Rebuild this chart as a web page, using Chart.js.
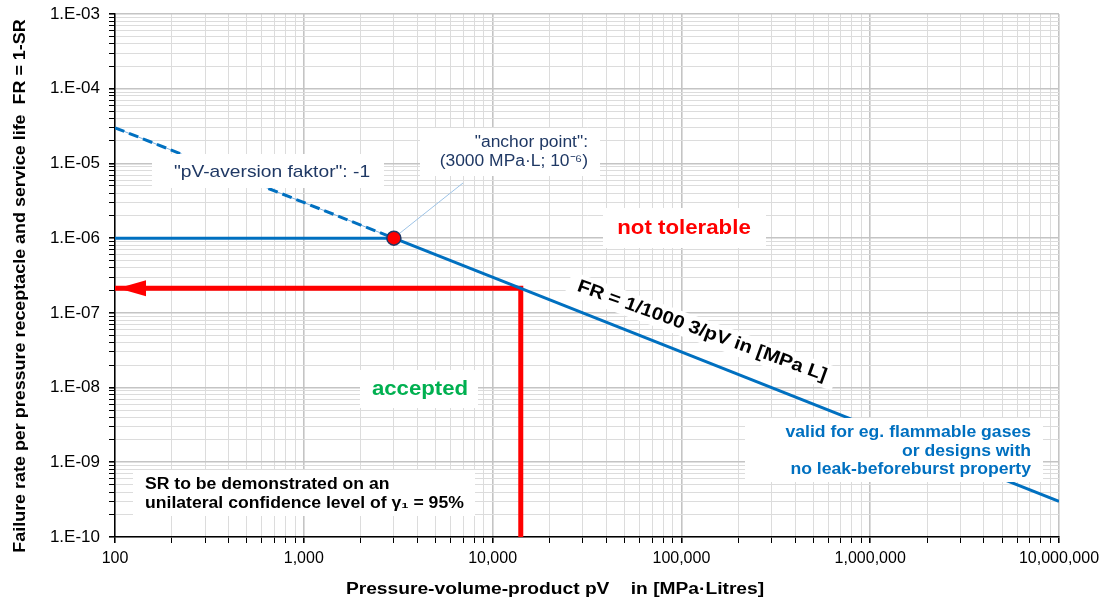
<!DOCTYPE html>
<html>
<head>
<meta charset="utf-8">
<script src="https://cdn.jsdelivr.net/npm/chart.js@4"></script>
<style>
  html, body { margin: 0; background: #fff; }
  #wrap { width: 1103px; height: 599px; }
</style>
</head>
<body>
<div id="wrap"><canvas id="c"></canvas></div>
<script>
// axis decades and minor steps
const decadesX = [100, 1000, 10000, 100000, 1000000, 10000000];
const decadesY = [1e-10, 1e-9, 1e-8, 1e-7, 1e-6, 1e-5, 1e-4, 1e-3];
const mantissas = [1, 2, 3, 4, 5, 6, 7, 8, 9];

// FR = 3e-3 / pV, dashed part below the anchor point
const aversionPv = [100, 3000];
const aversionFr = [3e-5, 1e-6];
// solid limit line
const limitPv = [3000, 10000000];
const limitFr = [1e-6, 3e-10];
// horizontal cap at 1e-6
const plateauPv = [100, 3000];
const plateauFr = [1e-6, 1e-6];
// anchor point
const anchorPv = [3000];
const anchorFr = [1e-6];
// red example path (bottom -> limit line -> y axis)
const examplePv = [14100, 14100, 100];
const exampleFr = [1e-10, 2.13e-7, 2.13e-7];

const BLUE = "#0070c0";
const NAVY = "#1f3864";
const RED = "#ff0000";
const GREEN = "#00b050";
const FONT = "'Liberation Sans', Arial, sans-serif";

function pts(xs, ys) {
  return xs.map((x, i) => ({ x: x, y: ys[i] }));
}

function logTicks(decades) {
  const out = [];
  decades.forEach((d, i) => {
    if (i === decades.length - 1) {
      out.push({ value: d, major: true });
      return;
    }
    mantissas.forEach((m) => out.push({ value: m * d, major: m === 1 }));
  });
  return out;
}

function yLabel(v) {
  const e = Math.round(Math.log10(v));
  return "1.E" + (e < 0 ? "-" : "+") + String(Math.abs(e)).padStart(2, "0");
}

function box(ctx, x, y, w, h) {
  ctx.fillStyle = "#fff";
  ctx.fillRect(x, y, w, h);
}

// text is a bit wider in the original, sx stretches it horizontally
function lines(ctx, arr, x, y, lh, font, color, align, sx) {
  ctx.save();
  ctx.translate(x, y);
  ctx.scale(sx || 1, 1);
  ctx.font = font;
  ctx.fillStyle = color;
  ctx.textAlign = align;
  ctx.textBaseline = "middle";
  arr.forEach((t, i) => ctx.fillText(t, 0, i * lh));
  ctx.restore();
}

const notes = {
  id: "notes",
  afterDatasetsDraw(chart) {
    const ctx = chart.ctx;
    ctx.save();

    // arrow head at the end of the red path
    const ex = chart.getDatasetMeta(5).data;
    const tip = ex[ex.length - 1];
    ctx.fillStyle = RED;
    ctx.beginPath();
    ctx.moveTo(tip.x + 3, tip.y);
    ctx.lineTo(tip.x + 31, tip.y - 8);
    ctx.lineTo(tip.x + 31, tip.y + 8);
    ctx.closePath();
    ctx.fill();

    // callout from anchor point
    const a = chart.getDatasetMeta(0).data[0];
    ctx.strokeStyle = "#9dc3e6";
    ctx.lineWidth = 1;
    ctx.beginPath();
    ctx.moveTo(a.x + 6, a.y - 5);
    ctx.lineTo(463, 183);
    ctx.stroke();

    // pV-aversion label
    box(ctx, 152, 154, 232, 34);
    lines(ctx, ['"pV-aversion faktor": -1'], 272, 172, 0, "17px " + FONT, NAVY, "center", 1.13);

    // anchor point label
    box(ctx, 420, 128, 180, 48);
    lines(ctx, ['"anchor point":', "(3000 MPa\u00b7L; 10\u207b\u2076)"], 588, 143, 19, "16px " + FONT, NAVY, "right", 1.09);

    // not tolerable
    box(ctx, 603, 208, 163, 40);
    lines(ctx, ["not tolerable"], 684, 228, 0, "bold 21px " + FONT, RED, "center", 1.06);

    // accepted
    box(ctx, 360, 370, 118, 38);
    lines(ctx, ["accepted"], 420, 389, 0, "bold 20px " + FONT, GREEN, "center", 1.11);

    // formula along the line
    ctx.save();
    ctx.translate(702, 331);
    ctx.rotate(20 * Math.PI / 180);
    box(ctx, -142, -12, 284, 24);
    lines(ctx, ["FR = 1/1000 3/pV in [MPa L]"], 0, 0, 0, "bold 18px " + FONT, "#000", "center", 1.13);
    ctx.restore();

    // validity note
    box(ctx, 745, 418, 298, 64);
    lines(ctx, ["valid for eg. flammable gases", "or designs with", "no leak-beforeburst property"],
      1031, 433, 18.5, "bold 16px " + FONT, BLUE, "right", 1.1);

    // SR note
    box(ctx, 133, 470, 342, 46);
    lines(ctx, ["SR to be demonstrated on an", "unilateral confidence level of \u03b3\u2081 = 95%"],
      145, 485, 19, "bold 16px " + FONT, "#000", "left", 1.1);

    // axis titles
    lines(ctx, ["Pressure-volume-product pV    in [MPa\u00b7Litres]"], 555, 590, 0, "bold 16px " + FONT, "#000", "center", 1.2);
    ctx.save();
    ctx.translate(21, 286);
    ctx.rotate(-Math.PI / 2);
    lines(ctx, ["Failure rate per pressure receptacle and service life  FR = 1-SR"], 0, 0, 0, "bold 16px " + FONT, "#000", "center", 1.12);
    ctx.restore();

    ctx.restore();
  }
};

Chart.defaults.font.family = FONT;
Chart.defaults.color = "#000";

const gridStyle = {
  color: (c) => (c.tick && c.tick.major ? "#c4c4c4" : "#dcdcdc"),
  lineWidth: (c) => (c.tick && c.tick.major ? 1.6 : 1),
  tickColor: "#000",
  tickLength: 6
};

new Chart(document.getElementById("c"), {
  type: "scatter",
  data: {
    datasets: [
      {
        data: pts(anchorPv, anchorFr),
        pointRadius: 7,
        pointBackgroundColor: RED,
        pointBorderColor: NAVY,
        pointBorderWidth: 1.5,
        showLine: false
      },
      {
        data: pts(plateauPv, plateauFr),
        showLine: true, borderColor: BLUE, borderWidth: 3, pointRadius: 0
      },
      {
        data: pts(aversionPv, aversionFr),
        showLine: true, borderColor: BLUE, borderWidth: 3, borderDash: [10, 5], pointRadius: 0
      },
      {
        data: pts(aversionPv, aversionFr),
        showLine: true, borderColor: "#7fb2e0", borderWidth: 1, pointRadius: 0
      },
      {
        data: pts(limitPv, limitFr),
        showLine: true, borderColor: BLUE, borderWidth: 3, pointRadius: 0
      },
      {
        data: pts(examplePv, exampleFr),
        showLine: true, borderColor: RED, borderWidth: 5, pointRadius: 0,
        borderJoinStyle: "miter", borderCapStyle: "butt"
      }
    ]
  },
  options: {
    responsive: true,
    maintainAspectRatio: false,
    animation: false,
    layout: { padding: { left: 0, top: 14, right: 44, bottom: 0 } },
    plugins: {
      legend: { display: false },
      tooltip: { enabled: false }
    },
    scales: {
      x: {
        type: "logarithmic",
        min: 100,
        max: 10000000,
        afterBuildTicks: (s) => { s.ticks = logTicks(decadesX); },
        afterFit: (s) => { s.height = 62; s.paddingLeft = 0; s.paddingRight = 0; },
        ticks: {
          autoSkip: false,
          maxRotation: 0,
          padding: 6,
          font: { size: 16 },
          callback: (v, i, t) => (t[i].major ? Number(v).toLocaleString("en-US") : "")
        },
        grid: gridStyle,
        border: { color: "#000", width: 1.5 }
      },
      y: {
        type: "logarithmic",
        min: 1e-10,
        max: 1e-3,
        afterBuildTicks: (s) => { s.ticks = logTicks(decadesY); },
        afterFit: (s) => { s.width = 115; s.paddingTop = 0; s.paddingBottom = 0; },
        ticks: {
          autoSkip: false,
          padding: 9,
          font: { size: 17 },
          callback: (v, i, t) => (t[i].major ? yLabel(v) : "")
        },
        grid: gridStyle,
        border: { color: "#000", width: 1.5 }
      }
    }
  },
  plugins: [notes]
});
</script>
</body>
</html>
